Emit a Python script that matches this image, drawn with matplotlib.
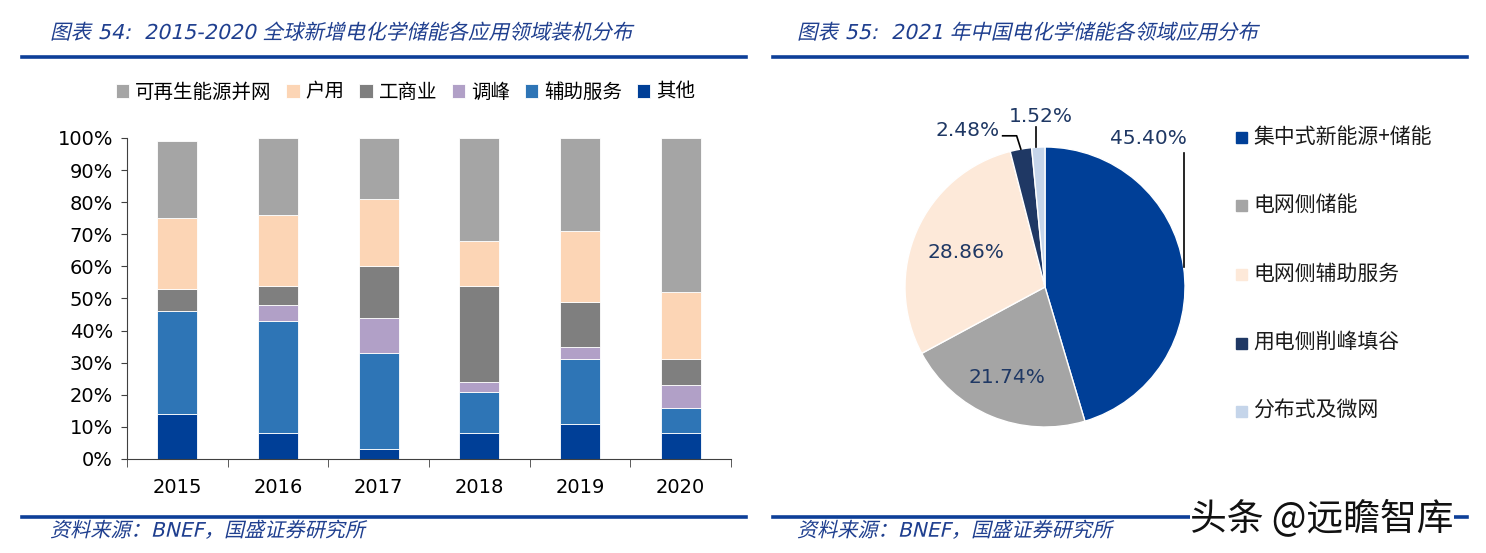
import matplotlib
matplotlib.use("Agg")
import matplotlib.pyplot as plt
import numpy as np
from matplotlib.patches import Rectangle
from matplotlib.lines import Line2D
from matplotlib.patheffects import AbstractPathEffect
from matplotlib.transforms import Affine2D

plt.rcParams['font.family'] = ['DejaVu Sans', 'Noto Sans CJK SC']

# ---------------- data ----------------
years = ['2015', '2016', '2017', '2018', '2019', '2020']
other = [14, 8, 3, 8, 11, 8]            # 其他
ancillary = [32, 35, 30, 13, 20, 8]     # 辅助服务
peak = [0, 5, 11, 3, 4, 7]              # 调峰
commercial = [7, 6, 16, 30, 14, 8]      # 工商业
household = [22, 22, 21, 14, 22, 21]    # 户用
renewable = [24, 24, 19, 32, 29, 48]    # 可再生能源并网

stack_names = ['其他', '辅助服务', '调峰', '工商业', '户用', '可再生能源并网']
stack_vals = [other, ancillary, peak, commercial, household, renewable]
stack_cols = ['#003F97', '#2E75B6', '#B1A0C7', '#7F7F7F', '#FCD5B5', '#A5A5A5']

pie_labels = ['集中式新能源+储能', '电网侧储能', '电网侧辅助服务', '用电侧削峰填谷', '分布式及微网']
pie_vals = [45.40, 21.74, 28.86, 2.48, 1.52]
pie_cols = ['#003F97', '#A5A5A5', '#FDE9D9', '#1F3864', '#C5D5EA']

title_left = '图表 54:  2015-2020 全球新增电化学储能各应用领域装机分布'
title_right = '图表 55:  2021 年中国电化学储能各领域应用分布'
source = '资料来源：BNEF，国盛证券研究所'

W, H = 1486, 553
fig = plt.figure(figsize=(W / 100, H / 100), dpi=100)


def fx(px):
    return px / W


def fy(py):
    return 1 - py / H


class Slant(AbstractPathEffect):
    """Shear glyphs about their baseline to imitate italics for CJK text."""
    def __init__(self, deg=13):
        super().__init__()
        self.a = np.deg2rad(deg)

    def draw_path(self, renderer, gc, tpath, affine, rgbFace=None):
        y0 = affine.get_matrix()[1, 2]
        sk = Affine2D().translate(0, -y0).skew(self.a, 0).translate(0, y0)
        renderer.draw_path(gc, tpath, affine + sk, rgbFace)


navy = '#0D3F98'
tcol = '#1F3F8F'
cjk = ['DejaVu Sans', 'Noto Sans CJK SC']

# titles and rules
fig.text(fx(50), fy(33), title_left, fontsize=14.8, color=tcol,
         va='center', ha='left', family=cjk, path_effects=[Slant()])
fig.text(fx(797), fy(33), title_right, fontsize=14.8, color=tcol,
         va='center', ha='left', family=cjk, path_effects=[Slant()])
for x0, x1 in [(22, 746), (773, 1467)]:
    fig.add_artist(Line2D([fx(x0), fx(x1)], [fy(57), fy(57)], color=navy, lw=2.6,
                          transform=fig.transFigure))
    fig.add_artist(Line2D([fx(x0), fx(x1)], [fy(517), fy(517)], color=navy, lw=2.6,
                          transform=fig.transFigure))
fig.text(fx(50), fy(531), source, fontsize=14.5, color=tcol,
         va='center', ha='left', family=cjk, path_effects=[Slant()])
fig.text(fx(797), fy(531), source, fontsize=14.5, color=tcol,
         va='center', ha='left', family=cjk, path_effects=[Slant()])

# ---------------- left: stacked bars ----------------
ax = fig.add_axes([fx(127), fy(459), fx(731) - fx(127), fy(138) - fy(459)])
x = np.arange(len(years))
bottom = np.zeros(len(years))
handles = []
for name, vals, col in zip(stack_names, stack_vals, stack_cols):
    b = ax.bar(x, vals, 0.4, bottom=bottom, color=col, edgecolor='white', linewidth=0.6,
               label=name, clip_on=False)
    bottom += np.array(vals)
    handles.append(b)
ax.set_xlim(-0.5, len(years) - 0.5)
ax.set_ylim(0, 100)
ax.set_yticks(np.arange(0, 101, 10))
ax.set_yticklabels([f'{v}%' for v in range(0, 101, 10)], fontsize=14)
ax.set_xticks(x)
ax.set_xticklabels(years, fontsize=14)
ax.set_xticks(np.arange(-0.5, len(years), 1), minor=True)
ax.tick_params(axis='x', which='major', length=0, pad=14)
ax.tick_params(axis='x', which='minor', length=6, color='#404040')
ax.tick_params(axis='y', length=4, color='#404040', pad=6)
for s in ['top', 'right']:
    ax.spines[s].set_visible(False)
for s in ['left', 'bottom']:
    ax.spines[s].set_color('#404040')

leg = fig.legend(handles[::-1], stack_names[::-1], loc='center left',
                 bbox_to_anchor=(fx(106), fy(92)), ncol=6, frameon=False,
                 prop={'family': 'Noto Sans CJK SC', 'size': 14},
                 handlelength=0.7, handleheight=0.7, handletextpad=0.3,
                 columnspacing=0.75, borderpad=0)

# ---------------- right: pie ----------------
cx, cy, r = 1045, 287, 140
half = 150
axp = fig.add_axes([fx(cx - half), fy(cy + half), fx(2 * half), fy(cy - half) - fy(cy + half)])
wedges, _ = axp.pie(pie_vals, colors=pie_cols, startangle=90, counterclock=False,
                    radius=1, wedgeprops=dict(edgecolor='white', linewidth=1.0))
lim = half / r
axp.set_xlim(-lim, lim)
axp.set_ylim(-lim, lim)
axp.set_aspect('equal')
axp.axis('off')

lab_col = '#1F3864'


def ang(i):
    w = wedges[i]
    return np.deg2rad((w.theta1 + w.theta2) / 2)


# inside labels
for i, rr in {1: 0.7, 2: 0.62}.items():
    a = ang(i)
    axp.text(rr * np.cos(a), rr * np.sin(a), f'{pie_vals[i]:.2f}%',
             ha='center', va='center', fontsize=14.5, color=lab_col)

# 45.40% leader
a0 = ang(0)
p0 = (np.cos(a0), np.sin(a0))
axp.plot([p0[0], p0[0]], [p0[1], 0.96], color='black', lw=1.2, clip_on=False)
axp.text(p0[0] - 0.25, 1.06, f'{pie_vals[0]:.2f}%', ha='center', va='center',
         fontsize=14.5, color=lab_col, clip_on=False)

# 2.48% leader
a3 = ang(3)
p3 = (np.cos(a3), np.sin(a3))
axp.plot([p3[0], p3[0] - 0.03, p3[0] - 0.13], [p3[1], 1.08, 1.08], color='black', lw=1.2,
         clip_on=False)
axp.text(p3[0] - 0.15, 1.12, f'{pie_vals[3]:.2f}%', ha='right', va='center',
         fontsize=14.5, color=lab_col, clip_on=False)

# 1.52% leader
a4 = ang(4)
p4 = (np.cos(a4), np.sin(a4))
axp.plot([p4[0] - 0.02, p4[0] - 0.02], [p4[1], 1.14], color='black', lw=1.2, clip_on=False)
axp.text(p4[0] + 0.02, 1.22, f'{pie_vals[4]:.2f}%', ha='center', va='center',
         fontsize=14.5, color=lab_col, clip_on=False)

# pie legend
ys = [137, 205, 274, 343, 411]
for lab, col, yy in zip(pie_labels, pie_cols, ys):
    fig.add_artist(Rectangle((fx(1236), fy(yy + 6)), fx(11), fy(yy - 5) - fy(yy + 6),
                             color=col, transform=fig.transFigure))
    fig.text(fx(1253), fy(yy), lab, fontsize=15, color='#1a1a1a', va='center', ha='left',
             family=['Noto Sans CJK SC', 'DejaVu Sans'])

# watermark
fig.text(fx(1190), fy(519), '头条 @远瞻智库', fontsize=26.5, color='#111111', va='center',
         ha='left', family=['Noto Sans CJK SC', 'DejaVu Sans'],
         bbox=dict(facecolor='white', edgecolor='none', pad=0))

fig.savefig('out.png', dpi=100)
